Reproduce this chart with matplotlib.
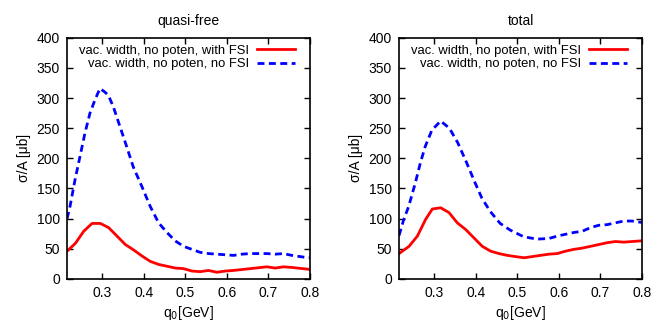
import matplotlib
matplotlib.use("Agg")
import matplotlib.pyplot as plt

plt.rcParams['font.family'] = ['Liberation Sans', 'DejaVu Sans']

# quasi-free panel
qf_red_x = [0.216, 0.236, 0.256, 0.276, 0.296, 0.316, 0.336, 0.356, 0.376, 0.396, 0.416, 0.436,
            0.456, 0.476, 0.496, 0.516, 0.536, 0.556, 0.576, 0.596, 0.616, 0.656, 0.696, 0.716,
            0.736, 0.756, 0.796, 0.8]
qf_red_y = [46, 59, 79, 92, 92, 85, 71, 57, 48, 38, 29, 24,
            21, 18, 17, 13, 12, 14, 11, 13, 14, 17, 20, 18,
            20, 19, 16, 15]
qf_blue_x = [0.216, 0.223, 0.235, 0.247, 0.259, 0.271, 0.283, 0.295, 0.305, 0.315, 0.327, 0.343,
             0.359, 0.375, 0.396, 0.416, 0.436, 0.456, 0.476, 0.496, 0.516, 0.536, 0.556,
             0.576, 0.616, 0.636, 0.656, 0.696, 0.716, 0.736, 0.756, 0.796, 0.8]
qf_blue_y = [100, 120, 164, 203, 242, 275, 297, 316, 311, 305, 286, 253,
             220, 186, 153, 120, 93, 77, 63, 54, 49, 44, 42,
             41, 39, 41, 42, 42, 41, 42, 39, 35, 35]

# total panel
tot_red_x = [0.216, 0.24, 0.26, 0.28, 0.296, 0.316, 0.336, 0.356, 0.376, 0.396, 0.416, 0.436,
             0.456, 0.476, 0.496, 0.516, 0.536, 0.556, 0.576, 0.596, 0.616, 0.636, 0.656,
             0.676, 0.696, 0.716, 0.736, 0.756, 0.796, 0.8]
tot_red_y = [42, 54, 71, 99, 116, 118, 110, 93, 82, 68, 54, 46,
             42, 39, 37, 35, 37, 39, 41, 42, 46, 49, 51,
             54, 57, 60, 62, 61, 63, 63]
tot_blue_x = [0.216, 0.227, 0.239, 0.255, 0.267, 0.279, 0.295, 0.316, 0.337, 0.357, 0.377, 0.397,
              0.415, 0.435, 0.459, 0.483, 0.515, 0.547, 0.576, 0.596, 0.616, 0.636,
              0.656, 0.676, 0.696, 0.716, 0.736, 0.756, 0.776, 0.796, 0.8]
tot_blue_y = [72, 98, 120, 159, 192, 220, 247, 262, 250, 226, 195, 162,
              134, 112, 92, 81, 70, 66, 67, 71, 74, 77,
              79, 85, 89, 90, 93, 96, 96, 94, 94]

titles = ["quasi-free", "total"]
labels = ["vac. width, no poten, with FSI", "vac. width, no poten, no FSI"]
xticks = [0.3, 0.4, 0.5, 0.6, 0.7, 0.8]
yticks = [0, 50, 100, 150, 200, 250, 300, 350, 400]

fig = plt.figure(figsize=(6.64, 3.32), dpi=100)
ax1 = fig.add_axes([0.101, 0.160, 0.366, 0.726])
ax2 = fig.add_axes([0.601, 0.160, 0.366, 0.726])

panels = [(ax1, qf_red_x, qf_red_y, qf_blue_x, qf_blue_y),
          (ax2, tot_red_x, tot_red_y, tot_blue_x, tot_blue_y)]

for i, (ax, rx, ry, bx, by) in enumerate(panels):
    ax.plot(rx, ry, color='#ff0000', lw=2.0, label=labels[0])
    ax.plot(bx, by, color='#0000ff', lw=2.0, ls=(0, (2.5, 1.6)), label=labels[1])
    ax.set_xlim(0.216, 0.8)
    ax.set_ylim(0, 400)
    ax.set_xticks(xticks)
    ax.set_yticks(yticks)
    ax.set_xticklabels([f"{v:g}" for v in xticks])
    ax.tick_params(direction='in', top=True, right=True, labelsize=10, length=4, width=1, pad=5)
    for s in ax.spines.values():
        s.set_linewidth(1.2)
    ax.set_title(titles[i], fontsize=10, pad=9)
    ax.set_xlabel("q$_0$[GeV]", fontsize=10, labelpad=3)
    ax.set_ylabel("σ/A [μb]", fontsize=10, labelpad=4)
    ax.legend(loc='upper right', bbox_to_anchor=(0.938, 0.972), frameon=False,
              markerfirst=False, fontsize=9.4, handlelength=2.9, handletextpad=0.6,
              labelspacing=0.12, borderaxespad=0.0, borderpad=0.0)

fig.savefig("out.png", dpi=100)
